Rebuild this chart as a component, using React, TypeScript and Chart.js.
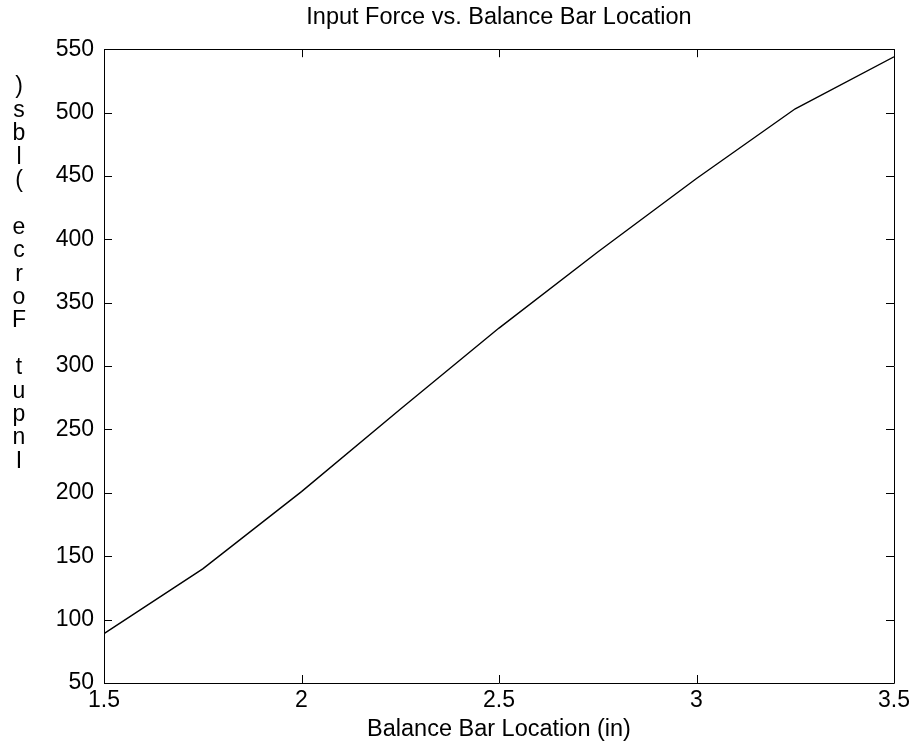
import React, { useEffect, useRef } from "react";
import { Chart, registerables } from "chart.js";

Chart.register(...registerables);

const xValues = [1.5, 1.75, 2.0, 2.25, 2.5, 2.75, 3.0, 3.25, 3.5];
const forceValues = [89, 140, 201, 266, 330, 390, 448, 503, 544];
const chartTitle = "Input Force vs. Balance Bar Location";
const xAxisTitle = "Balance Bar Location (in)";
// y-axis label: characters stacked top to bottom as printed
const yAxisChars = [")", "s", "b", "l", "(", " ", "e", "c", "r", "o", "F", " ", "t", "u", "p", "n", "I"];

const FONT = "'Liberation Sans', Arial, Helvetica, sans-serif";

const framePlugin = {
  id: "matlabFrame",
  afterDatasetsDraw(chart: any) {
    const { ctx, chartArea } = chart;
    const { left, right, top, bottom } = chartArea;
    const xs = chart.scales.x;
    const ys = chart.scales.y;
    const tl = 8;
    ctx.save();
    ctx.strokeStyle = "#000";
    ctx.lineWidth = 1;
    ctx.beginPath();
    ctx.rect(Math.round(left) + 0.5, Math.round(top) + 0.5, Math.round(right - left), Math.round(bottom - top));
    ctx.stroke();
    ctx.beginPath();
    xs.ticks.forEach((t: any) => {
      const px = Math.round(xs.getPixelForValue(t.value)) + 0.5;
      ctx.moveTo(px, bottom);
      ctx.lineTo(px, bottom - tl);
      ctx.moveTo(px, top);
      ctx.lineTo(px, top + tl);
    });
    ys.ticks.forEach((t: any) => {
      const py = Math.round(ys.getPixelForValue(t.value)) + 0.5;
      ctx.moveTo(left, py);
      ctx.lineTo(left + tl, py);
      ctx.moveTo(right, py);
      ctx.lineTo(right - tl, py);
    });
    ctx.stroke();
    ctx.restore();
  },
  afterDraw(chart: any) {
    const { ctx } = chart;
    ctx.save();
    ctx.fillStyle = "#000";
    ctx.font = `23px ${FONT}`;
    ctx.textAlign = "center";
    ctx.textBaseline = "middle";
    const y0 = 87;
    const step = 23.4;
    yAxisChars.forEach((c, i) => {
      if (c.trim()) ctx.fillText(c, 19, y0 + i * step);
    });
    ctx.restore();
  },
};

export default function App() {
  const ref = useRef<HTMLCanvasElement | null>(null);
  useEffect(() => {
    if (!ref.current) return;
    const chart = new Chart(ref.current, {
      type: "line",
      data: {
        datasets: [
          {
            data: xValues.map((x, i) => ({ x, y: forceValues[i] })),
            borderColor: "#000",
            borderWidth: 1.4,
            pointRadius: 0,
            tension: 0,
            fill: false,
          },
        ],
      },
      options: {
        animation: false,
        responsive: true,
        maintainAspectRatio: false,
        layout: { padding: { left: 0, right: 20, top: 0, bottom: 0 } },
        plugins: {
          legend: { display: false },
          tooltip: { enabled: false },
          title: {
            display: true,
            text: chartTitle,
            fullSize: false,
            color: "#000",
            font: { family: FONT, size: 23.5, weight: "normal" },
            padding: { top: 3, bottom: 18 },
          },
        },
        scales: {
          x: {
            type: "linear",
            min: 1.5,
            max: 3.5,
            grid: { display: false, drawTicks: false },
            border: { display: false },
            ticks: {
              stepSize: 0.5,
              color: "#000",
              padding: 4,
              maxRotation: 0,
              font: { family: FONT, size: 23 },
              callback: (v: any) => String(Number(v)),
            },
            title: {
              display: true,
              text: xAxisTitle,
              color: "#000",
              font: { family: FONT, size: 23.5 },
              padding: { top: 0, bottom: 3 },
            },
            afterFit: (s: any) => {
              s.height = 64;
            },
          },
          y: {
            type: "linear",
            min: 50,
            max: 550,
            grid: { display: false, drawTicks: false },
            border: { display: false },
            ticks: {
              stepSize: 50,
              color: "#000",
              padding: 10,
              font: { family: FONT, size: 23 },
            },
            afterFit: (s: any) => {
              s.width = 104;
            },
          },
        },
      },
      plugins: [framePlugin],
    });
    return () => chart.destroy();
  }, []);
  return (
    <div style={{ position: "fixed", left: 0, top: 0, width: 914, height: 747, background: "#fff" }}>
      <canvas ref={ref} />
    </div>
  );
}
